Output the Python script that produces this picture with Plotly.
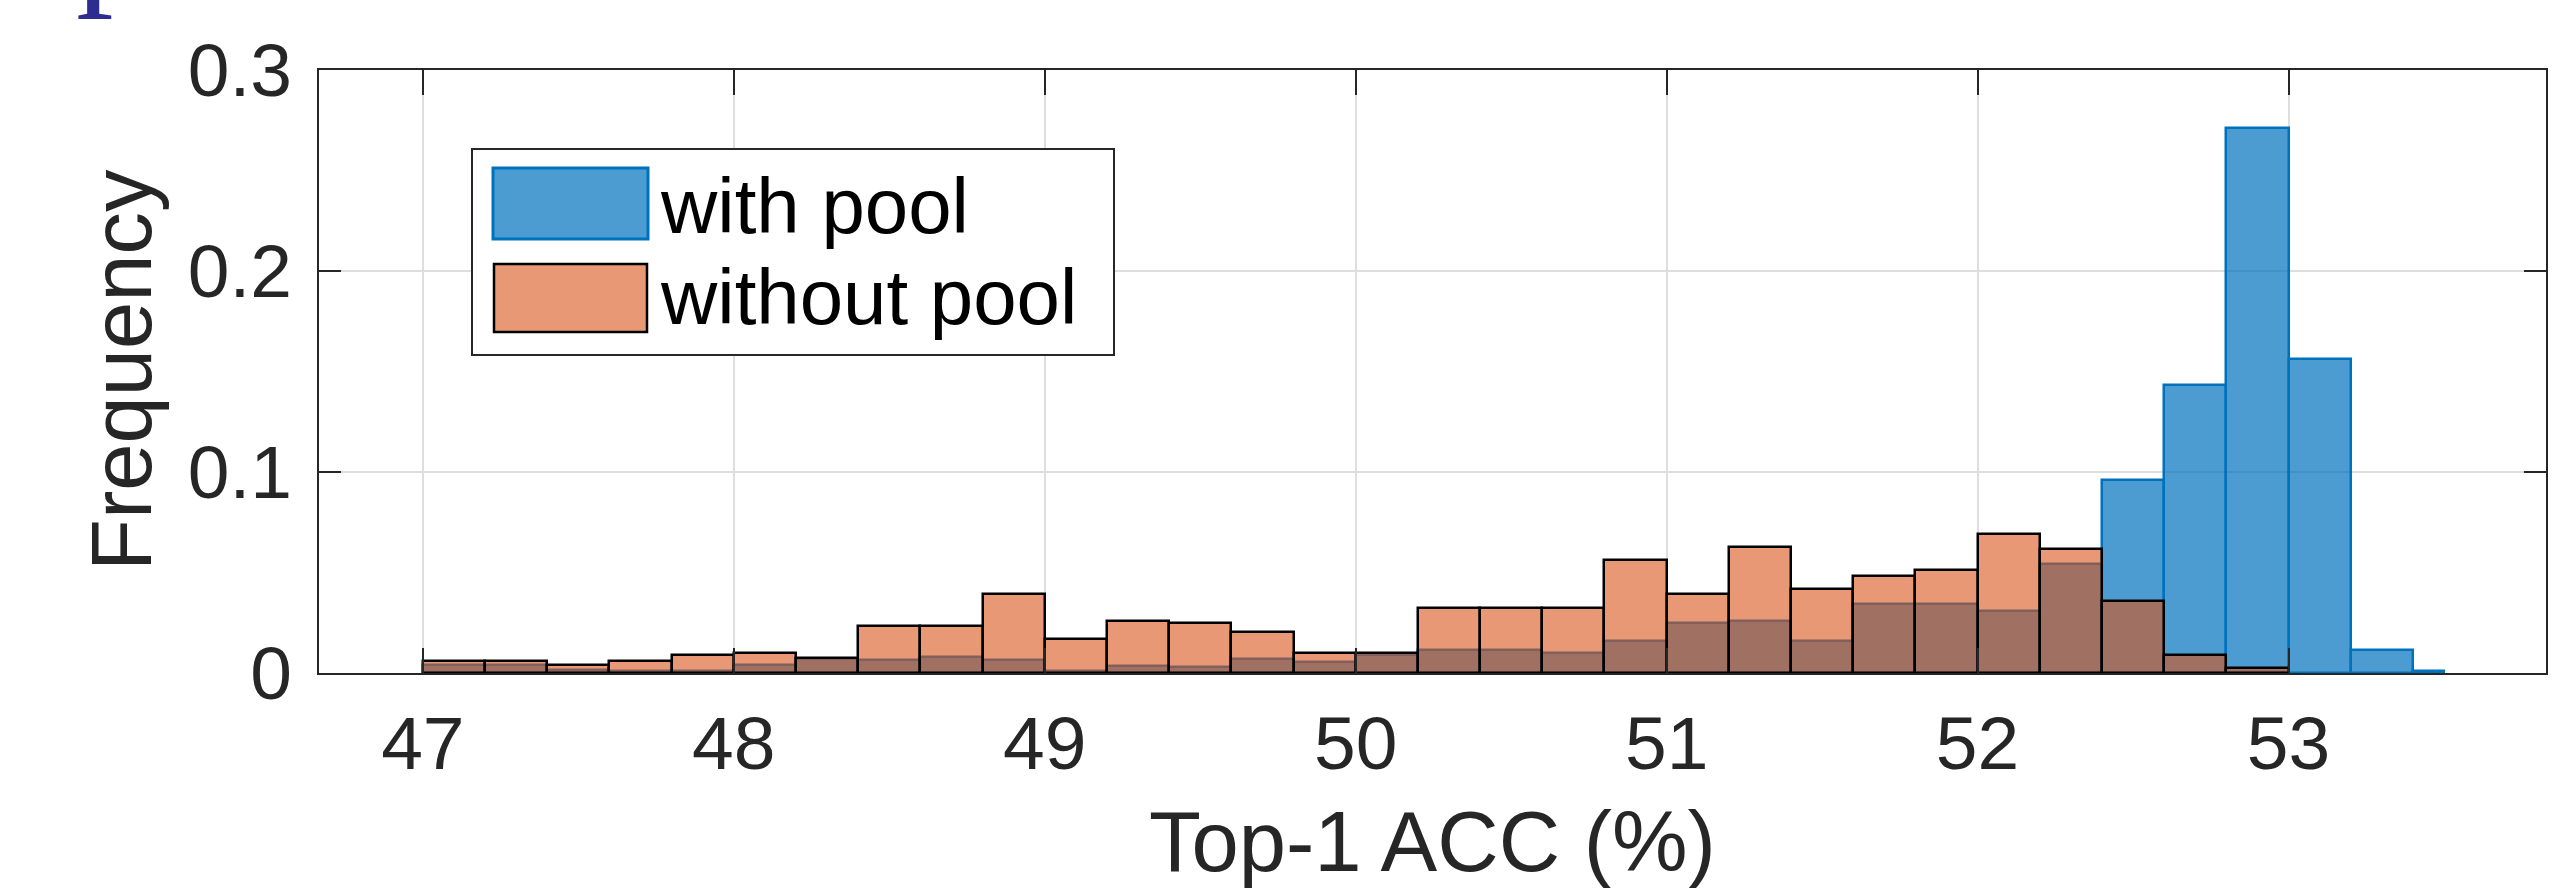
import plotly.graph_objects as go

# ---------------- data ----------------
# histogram "without pool": bin edges and probability per bin
without_edges = [47.0, 47.2, 47.4, 47.6, 47.8, 48.0, 48.2, 48.4, 48.6, 48.8,
                 49.0, 49.2, 49.4, 49.6, 49.8, 50.0, 50.2, 50.4, 50.6, 50.8,
                 51.0, 51.2, 51.4, 51.6, 51.8, 52.0, 52.2, 52.4, 52.6, 52.8, 53.0]
without_pool = [0.006, 0.006, 0.004, 0.006, 0.0088, 0.0102, 0.0077, 0.0233, 0.0235, 0.0393,
                0.0168, 0.026, 0.025, 0.0202, 0.0102, 0.010, 0.0323, 0.0323, 0.0323, 0.0563,
                0.0393, 0.0627, 0.0418, 0.0485, 0.0513, 0.069, 0.0615, 0.0357, 0.0088, 0.0025]

# histogram "with pool"
with_edges = [47.0, 47.2, 47.4, 47.6, 47.8, 48.0, 48.2, 48.4, 48.6, 48.8,
              49.0, 49.2, 49.4, 49.6, 49.8, 50.0, 50.2, 50.4, 50.6, 50.8,
              51.0, 51.2, 51.4, 51.6, 51.8, 52.0, 52.2, 52.4, 52.6, 52.8,
              53.0, 53.2, 53.4, 53.5]
with_pool = [0.004, 0.004, 0.0015, 0.0012, 0.0012, 0.004, 0.0072, 0.0067, 0.008, 0.0067,
             0.001, 0.0034, 0.003, 0.0068, 0.0055, 0.009, 0.0113, 0.0113, 0.0098, 0.016,
             0.0247, 0.026, 0.016, 0.0343, 0.0343, 0.0307, 0.054, 0.096, 0.1435, 0.271,
             0.156, 0.0113, 0.001]

x_ticks = [47, 48, 49, 50, 51, 52, 53]
y_ticks = [0, 0.1, 0.2, 0.3]
y_tick_labels = ["0", "0.1", "0.2", "0.3"]
series_names = ["with pool", "without pool"]
x_title = "Top-1 ACC (%)"
y_title = "Frequency"

# ---------------- layout constants ----------------
W, H = 2576, 888
L, R, T, B = 319, 30, 70, 215
PW, PH = W - L - R, H - T - B

def px(xp):
    return (xp - L) / PW

def py(yp):
    return (H - B - yp) / PH

BLUE_FILL = "rgba(0,114,189,0.7)"
BLUE_EDGE = "rgb(0,114,189)"
ORANGE_FILL = "rgba(217,83,25,0.6)"
ORANGE_EDGE = "rgb(0,0,0)"
AX = "#262626"
FONT = "Liberation Sans, Arial, Helvetica, sans-serif"


def centers_widths(edges):
    c = [(edges[i] + edges[i + 1]) / 2 for i in range(len(edges) - 1)]
    w = [edges[i + 1] - edges[i] for i in range(len(edges) - 1)]
    return c, w

wc, ww = centers_widths(with_edges)
oc, ow = centers_widths(without_edges)

fig = go.Figure()
fig.add_trace(go.Bar(x=wc, y=with_pool, width=ww, name=series_names[0],
                     marker=dict(color=BLUE_FILL, line=dict(color=BLUE_EDGE, width=2.5)),
                     showlegend=False))
fig.add_trace(go.Bar(x=oc, y=without_pool, width=ow, name=series_names[1],
                     marker=dict(color=ORANGE_FILL, line=dict(color=ORANGE_EDGE, width=2.5)),
                     showlegend=False))

fig.update_layout(
    width=W, height=H,
    margin=dict(l=L, r=R, t=T, b=B, pad=0, autoexpand=False),
    paper_bgcolor="white", plot_bgcolor="white",
    barmode="overlay", bargap=0,
    font=dict(family=FONT, color=AX),
    showlegend=False,
)
fig.update_xaxes(range=[46.666, 53.828], tickvals=x_ticks, ticktext=[str(v) for v in x_ticks],
                 showgrid=True, gridcolor="#DEDEDE", gridwidth=1.5,
                 showline=True, linecolor=AX, linewidth=2, mirror="allticks",
                 ticks="inside", ticklen=25, tickwidth=2, tickcolor=AX,
                 tickfont=dict(size=75, color=AX, family=FONT),
                 ticklabelstandoff=4, zeroline=False, automargin=False)
fig.update_yaxes(range=[0, 0.3], tickvals=y_ticks, ticktext=y_tick_labels,
                 showgrid=True, gridcolor="#DEDEDE", gridwidth=1.5,
                 showline=True, linecolor=AX, linewidth=2, mirror="allticks",
                 ticks="inside", ticklen=22, tickwidth=2, tickcolor=AX,
                 tickfont=dict(size=75, color=AX, family=FONT),
                 ticklabelstandoff=10, zeroline=False, automargin=False)

# axis titles
fig.add_annotation(text=x_title, xref="paper", yref="paper", x=px(1432), y=py(841),
                   xanchor="center", yanchor="middle", showarrow=False,
                   font=dict(size=85, color=AX, family=FONT))
fig.add_annotation(text=y_title, xref="paper", yref="paper", x=px(121), y=py(370),
                   xanchor="center", yanchor="middle", textangle=-90, showarrow=False,
                   font=dict(size=85, color=AX, family=FONT))

# legend (MATLAB style box)
fig.add_shape(type="rect", xref="paper", yref="paper", x0=px(472), x1=px(1114), y0=py(355), y1=py(149),
              line=dict(color=AX, width=2), fillcolor="white", layer="above")
fig.add_shape(type="rect", xref="paper", yref="paper", x0=px(493), x1=px(648), y0=py(239), y1=py(168),
              line=dict(color=BLUE_EDGE, width=3), fillcolor=BLUE_FILL, layer="above")
fig.add_shape(type="rect", xref="paper", yref="paper", x0=px(494), x1=px(647), y0=py(332), y1=py(264),
              line=dict(color=ORANGE_EDGE, width=2.5), fillcolor=ORANGE_FILL, layer="above")
fig.add_annotation(text=series_names[0], xref="paper", yref="paper", x=px(658), y=py(206),
                   xanchor="left", yanchor="middle", showarrow=False,
                   font=dict(size=78, color="black", family=FONT))
fig.add_annotation(text=series_names[1], xref="paper", yref="paper", x=px(658), y=py(297),
                   xanchor="left", yanchor="middle", showarrow=False,
                   font=dict(size=78, color="black", family=FONT))

# cropped glyph at top-left corner of the image
fig.add_annotation(text="p", xref="paper", yref="paper", x=px(74), y=py(21),
                   xanchor="left", yanchor="bottom", showarrow=False,
                   font=dict(size=150, color="#2B2E90", family="Liberation Serif, Times New Roman, serif"))

fig.write_html("out.html", config={"displayModeBar": False},
               post_script="document.body.style.margin='0px';document.body.style.overflow='hidden';")
